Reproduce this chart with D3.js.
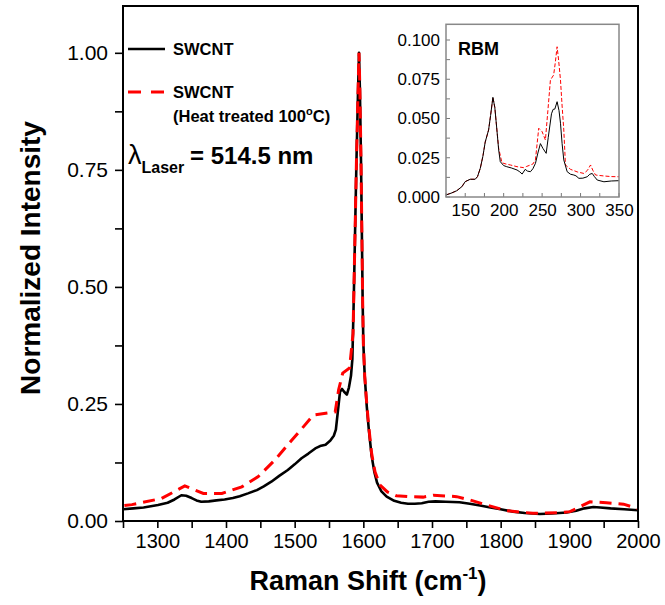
<!DOCTYPE html>
<html>
<head>
<meta charset="utf-8">
<script src="https://cdn.jsdelivr.net/npm/d3@7"></script>
<style>
  html, body { margin: 0; padding: 0; background: #fff; }
  svg { display: block; font-family: "Liberation Sans", Arial, sans-serif; }
</style>
</head>
<body>
<svg id="chart" width="665" height="605"></svg>
<script>
// ---------- data ----------
const xTicksMain = [1300, 1400, 1500, 1600, 1700, 1800, 1900, 2000];
const yTicksMain = [0.00, 0.25, 0.50, 0.75, 1.00];

const swcntX = [1250,1265,1280,1301,1315,1325,1335,1342,1350,1357,1364,1375,1386,1398,1410,1420,1432,1445,1455,1466,1478,1490,1500,1510,1520,1530,1537,1545,1552,1557,1560,1563,1566,1569,1572,1576,1579,1582,1584,1586,1588,1590,1592,1593.7,1595,1596.6,1598,1599,1600,1602,1605,1608,1612,1616,1620,1626,1634,1645,1655,1665,1675,1685,1695,1705,1720,1740,1755,1770,1785,1800,1818,1835,1857,1875,1896,1910,1922,1935,1945,1960,1980,2000];
const swcntY = [0.025,0.027,0.029,0.034,0.039,0.046,0.055,0.054,0.049,0.044,0.041,0.042,0.044,0.046,0.049,0.053,0.059,0.066,0.074,0.084,0.097,0.109,0.121,0.134,0.144,0.155,0.160,0.163,0.172,0.182,0.195,0.235,0.276,0.282,0.276,0.270,0.285,0.31,0.345,0.47,0.62,0.77,0.90,1.0,0.92,0.77,0.6,0.47,0.38,0.31,0.245,0.195,0.14,0.105,0.082,0.064,0.052,0.043,0.039,0.037,0.037,0.038,0.041,0.042,0.041,0.040,0.037,0.033,0.029,0.025,0.020,0.017,0.015,0.016,0.018,0.022,0.027,0.030,0.029,0.027,0.025,0.023];

const heatX = [1252,1263,1306,1340,1367,1394,1423,1447,1471,1496,1512,1527,1559,1564,1570,1580,1585,1588,1590,1592,1593.7,1595,1596.6,1598,1599,1600,1602,1605,1608,1612,1617,1624,1635,1648,1665,1687,1702,1736,1755,1780,1809,1847,1886,1901,1930,1954,1979,1998,2000];
const heatY = [0.033,0.035,0.048,0.075,0.059,0.059,0.073,0.095,0.13,0.173,0.2,0.226,0.233,0.28,0.316,0.327,0.40,0.62,0.77,0.90,1.0,0.92,0.77,0.6,0.47,0.38,0.31,0.25,0.2,0.145,0.105,0.077,0.062,0.054,0.052,0.051,0.055,0.052,0.045,0.034,0.022,0.0164,0.018,0.02,0.041,0.039,0.036,0.027,0.026];

const xTicksInset = [150, 200, 250, 300, 350];
const yTicksInset = [0.000, 0.025, 0.050, 0.075, 0.100];

const rbmSwcntX = [125,132,139,145.7,150,156.5,163,166,169.6,173,176,180.4,183,186,188.5,191.2,193.5,195.6,200,204,210,217.4,221,224,228,231,234.8,238,241.4,244.5,247.8,251,255.3,258,262.2,264.3,266.5,269.5,272,273.9,276,278.2,282.6,287,291.3,294,297.8,303,308.7,312,315.2,318,321.7,330.4,340,350];
const rbmSwcntY = [0.0013,0.0025,0.004,0.0066,0.0098,0.0113,0.0113,0.013,0.0183,0.026,0.035,0.0427,0.052,0.0635,0.057,0.0427,0.030,0.0225,0.020,0.0193,0.0185,0.0172,0.016,0.0146,0.0176,0.0165,0.0161,0.018,0.0215,0.028,0.034,0.031,0.0278,0.038,0.053,0.0558,0.056,0.0607,0.055,0.047,0.034,0.0236,0.0161,0.0145,0.014,0.0135,0.0119,0.012,0.0129,0.0145,0.015,0.013,0.0108,0.0097,0.0102,0.0104];

const rbmHeatX = [125,132,139,145.7,150,156.5,163,166,169.6,173,176,180.4,183,186,188.5,191.2,193.5,197.8,203,208.7,217.4,226,230,234.8,238,241.3,245.6,250,254.3,257.5,260.8,265,267,269.5,271.5,273.9,276,278.2,280.4,287,295.6,304.3,309,313,316,319.5,330.4,340,350];
const rbmHeatY = [0.0013,0.0025,0.004,0.0066,0.0098,0.0113,0.0113,0.013,0.0183,0.026,0.035,0.0427,0.052,0.0635,0.057,0.0427,0.031,0.0218,0.021,0.0204,0.0193,0.0187,0.0195,0.0204,0.021,0.0236,0.0438,0.0416,0.0363,0.055,0.0745,0.0777,0.085,0.0957,0.087,0.0745,0.058,0.0427,0.0204,0.0176,0.016,0.015,0.017,0.0204,0.017,0.014,0.0134,0.013,0.0129];

// ---------- drawing ----------
const svg = d3.select("#chart");
svg.append("rect").attr("width", 665).attr("height", 605).attr("fill", "#fff");

const x = d3.scaleLinear().domain([1250, 2000]).range([123, 638]);
const y = d3.scaleLinear().domain([0, 1.1]).range([521, 6]);

svg.append("clipPath").attr("id", "mainClip")
  .append("rect").attr("x", 123).attr("y", 6).attr("width", 515).attr("height", 515);

const line = d3.line().x(d => x(d[0])).y(d => y(d[1]));
const g = svg.append("g").attr("clip-path", "url(#mainClip)");
g.append("path").datum(swcntX.map((v, i) => [v, swcntY[i]]))
  .attr("d", line).attr("fill", "none").attr("stroke", "#000")
  .attr("stroke-width", 2.6).attr("stroke-linejoin", "round");
g.append("path").datum(heatX.map((v, i) => [v, heatY[i]]))
  .attr("d", line).attr("fill", "none").attr("stroke", "#ff0000")
  .attr("stroke-width", 3).attr("stroke-dasharray", "12,7");

// axes
const xAxis = d3.axisBottom(x).tickValues(d3.range(1250, 2001, 50))
  .tickSize(7).tickFormat(d => xTicksMain.includes(d) ? d : "");
const gx = svg.append("g").attr("transform", "translate(0,521)").call(xAxis);
gx.select(".domain").remove();
gx.selectAll("line").attr("stroke", "#000").attr("stroke-width", 1.6);
gx.selectAll("text").attr("font-size", 20).attr("fill", "#000").attr("dy", "0.9em").attr("y", 9);

const yAxis = d3.axisLeft(y).tickValues(d3.range(0, 1.01, 0.125))
  .tickSize(8).tickFormat(d => yTicksMain.some(t => Math.abs(t - d) < 1e-6) ? d3.format(".2f")(d) : "");
const gy = svg.append("g").attr("transform", "translate(123,0)").call(yAxis);
gy.select(".domain").remove();
gy.selectAll("line").attr("stroke", "#000").attr("stroke-width", 1.6);
gy.selectAll("text").attr("font-size", 21).attr("fill", "#000").attr("x", -15);

// frame
svg.append("rect").attr("x", 123).attr("y", 6).attr("width", 515).attr("height", 515)
  .attr("fill", "none").attr("stroke", "#000").attr("stroke-width", 2);

// axis titles
const xt = svg.append("text").attr("x", 368).attr("y", 590).attr("text-anchor", "middle")
  .attr("font-size", 27).attr("font-weight", "bold").attr("fill", "#000");
xt.append("tspan").text("Raman Shift (cm");
xt.append("tspan").attr("font-size", 17).attr("dy", -11).text("-1");
xt.append("tspan").attr("dy", 11).text(")");

svg.append("text").attr("transform", "translate(40,258) rotate(-90)")
  .attr("text-anchor", "middle").attr("font-size", 28).attr("font-weight", "bold")
  .attr("fill", "#000").text("Normalized Intensity");

// legend
svg.append("line").attr("x1", 128).attr("x2", 165).attr("y1", 49).attr("y2", 49)
  .attr("stroke", "#000").attr("stroke-width", 2.6);
svg.append("text").attr("x", 173).attr("y", 55).attr("font-size", 16.5).attr("font-weight", "bold").text("SWCNT");
svg.append("line").attr("x1", 128).attr("x2", 165).attr("y1", 92).attr("y2", 92)
  .attr("stroke", "#ff0000").attr("stroke-width", 3).attr("stroke-dasharray", "13,10");
svg.append("text").attr("x", 173).attr("y", 98).attr("font-size", 16.5).attr("font-weight", "bold").text("SWCNT");
const ht = svg.append("text").attr("x", 173).attr("y", 122).attr("font-size", 16.5).attr("font-weight", "bold");
ht.append("tspan").text("(Heat treated 100");
ht.append("tspan").attr("font-size", 11).attr("dy", -7).text("o");
ht.append("tspan").attr("dy", 7).text("C)");

const lt = svg.append("text").attr("x", 128).attr("y", 164).attr("fill", "#000");
lt.append("tspan").attr("font-size", 27).text("λ");
lt.append("tspan").attr("font-size", 16).attr("font-weight", "bold").attr("dy", 9).text("Laser");
lt.append("tspan").attr("font-size", 24).attr("font-weight", "bold").attr("dy", -9).attr("x", 190).text("= 514.5 nm");

// ---------- inset ----------
const xi = d3.scaleLinear().domain([125, 350]).range([446, 619]);
const yi = d3.scaleLinear().domain([0, 0.11]).range([197, 24.3]);
svg.append("rect").attr("x", 446).attr("y", 24.3).attr("width", 173).attr("height", 172.7).attr("fill", "#fff");

const gxi = svg.append("g").attr("transform", "translate(0,197)")
  .call(d3.axisBottom(xi).tickValues(d3.range(125, 351, 25)).tickSize(0)
    .tickFormat(d => xTicksInset.includes(d) ? d : ""));
gxi.select(".domain").remove();
gxi.selectAll("text").attr("font-size", 17).attr("fill", "#000").attr("y", 7);
svg.append("g").selectAll("line").data(d3.range(125, 351, 25)).join("line")
  .attr("x1", d => xi(d)).attr("x2", d => xi(d)).attr("y1", 197).attr("y2", 193)
  .attr("stroke", "#777").attr("stroke-width", 1);

const gyi = svg.append("g").attr("transform", "translate(446,0)")
  .call(d3.axisLeft(yi).tickValues(d3.range(0, 0.1001, 0.0125)).tickSize(0)
    .tickFormat(d => yTicksInset.some(t => Math.abs(t - d) < 1e-6) ? d3.format(".3f")(d) : ""));
gyi.select(".domain").remove();
gyi.selectAll("text").attr("font-size", 17).attr("fill", "#000").attr("x", -6);
svg.append("g").selectAll("line").data(d3.range(0, 0.1001, 0.0125)).join("line")
  .attr("x1", 446).attr("x2", 450).attr("y1", d => yi(d)).attr("y2", d => yi(d))
  .attr("stroke", "#777").attr("stroke-width", 1);

const linei = d3.line().x(d => xi(d[0])).y(d => yi(d[1]));
svg.append("path").datum(rbmHeatX.map((v, i) => [v, rbmHeatY[i]]))
  .attr("d", linei).attr("fill", "none").attr("stroke", "#ff0000")
  .attr("stroke-width", 1).attr("stroke-dasharray", "4,2");
svg.append("path").datum(rbmSwcntX.map((v, i) => [v, rbmSwcntY[i]]))
  .attr("d", linei).attr("fill", "none").attr("stroke", "#000").attr("stroke-width", 1);

svg.append("rect").attr("x", 446).attr("y", 24.3).attr("width", 173).attr("height", 172.7)
  .attr("fill", "none").attr("stroke", "#888").attr("stroke-width", 1.5);

svg.append("text").attr("x", 458).attr("y", 55).attr("font-size", 18).attr("font-weight", "bold").text("RBM");
</script>
</body>
</html>
